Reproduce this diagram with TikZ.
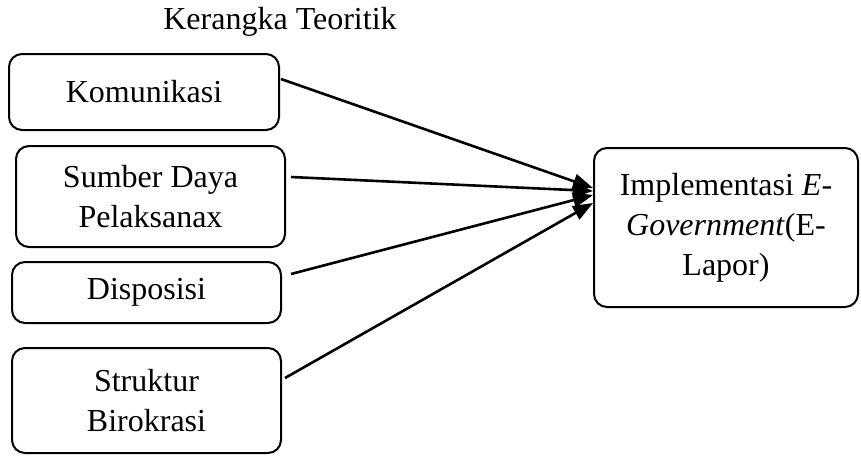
\documentclass[tikz,border=0pt]{standalone}
\usepackage{fontspec}
\setmainfont{Liberation Serif}
\usetikzlibrary{arrows.meta,calc}
\begin{document}
\begin{tikzpicture}[x=1pt,y=-1pt,
  box/.style={draw, line width=2pt, rounded corners=13pt, inner sep=0pt, align=center,
    font=\fontsize{32}{40}\selectfont},
  arr/.style={line width=2.6pt, -{Triangle[length=20pt,width=15pt]}},
  lbl/.style={font=\fontsize{32}{40}\selectfont}]
\useasboundingbox (0,0) rectangle (861,456);
\node[lbl, anchor=base] (title) at (280,29) {Kerangka Teoritik};
\node[box, minimum width=270pt, minimum height=76pt] (kom) at (144,92) {Komunikasi};
\node[box, minimum width=269pt, minimum height=101pt] (sdp) at (150.5,196.5) {Sumber Daya\\Pelaksanax};
\node[box, minimum width=269pt, minimum height=61pt] (dis) at (146.5,292.5) {Disposisi};
\node[box, minimum width=269pt, minimum height=105pt] (sb) at (146.5,400.5) {Struktur\\Birokrasi};
\node[box, minimum width=264pt, minimum height=159pt] (imp) at (726,227.5) {Implementasi \textit{E-}\\\textit{Government}(E-\\Lapor)};
\coordinate (s1) at ($(kom.east)+(1,-13)$);
\coordinate (s2) at ($(sdp.east)+(5,-19.5)$);
\coordinate (s3) at ($(dis.east)+(9,-18.5)$);
\coordinate (s4) at ($(sb.east)+(3,-22.5)$);
\coordinate (e1) at ($(imp.west)+(0,-39.5)$);
\coordinate (e2) at ($(imp.west)+(0,-36.5)$);
\coordinate (e3) at ($(imp.west)+(0,-32.5)$);
\coordinate (e4) at ($(imp.west)+(0,-24.5)$);
\draw[arr] (s1) -- (e1);
\draw[arr] (s2) -- (e2);
\draw[arr] (s3) -- (e3);
\draw[arr] (s4) -- (e4);
\end{tikzpicture}
\end{document}
